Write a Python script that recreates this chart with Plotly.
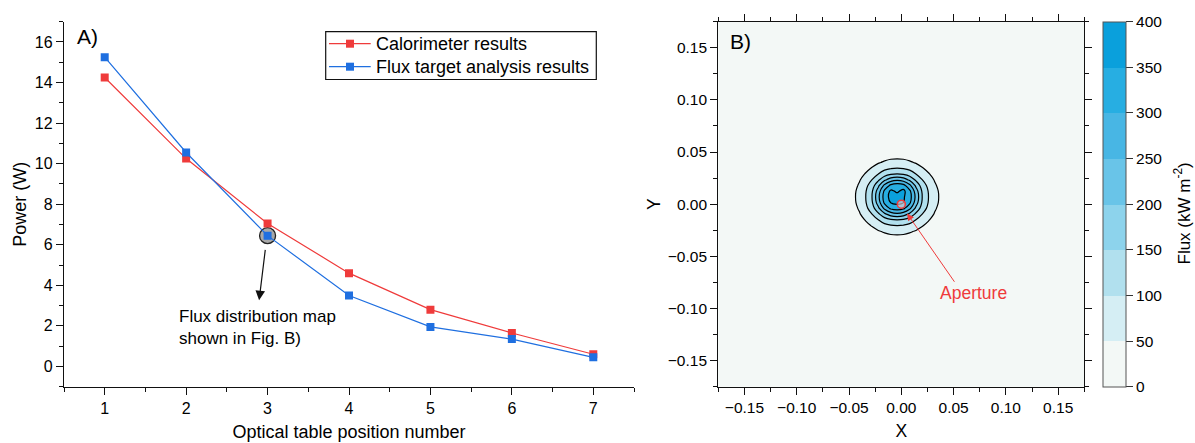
import plotly.graph_objects as go

# ---------------- data ----------------
positions = [1, 2, 3, 4, 5, 6, 7]
calorimeter = [14.25, 10.25, 7.05, 4.6, 2.8, 1.65, 0.6]
flux_target = [15.25, 10.55, 6.45, 3.5, 1.95, 1.35, 0.45]
series_names = ["Calorimeter results", "Flux target analysis results"]
highlight_pos = [3]
highlight_val = [6.45]

grid_x = [-0.052, -0.046, -0.040, -0.034, -0.028, -0.022, -0.016, -0.010, -0.004,
          0.002, 0.008, 0.014, 0.020, 0.026, 0.032, 0.038, 0.044]
grid_y = [-0.037, -0.0315, -0.026, -0.0205, -0.015, -0.0095, -0.004, 0.0015, 0.007,
          0.0125, 0.018, 0.0235, 0.029, 0.0345, 0.040, 0.0455, 0.051]
flux_map = [
    [3, 5, 6, 10, 14, 16, 19, 22, 23, 22, 19, 16, 14, 10, 6, 5, 3],
    [5, 7, 12, 16, 22, 28, 34, 39, 40, 39, 34, 28, 22, 16, 12, 7, 5],
    [6, 12, 17, 26, 36, 46, 56, 64, 67, 64, 56, 46, 36, 26, 17, 12, 6],
    [10, 16, 26, 39, 53, 72, 87, 97, 100, 97, 87, 72, 53, 39, 26, 16, 10],
    [14, 22, 36, 53, 78, 100, 126, 144, 150, 144, 126, 100, 78, 53, 36, 22, 14],
    [16, 28, 46, 72, 100, 140, 188, 225, 238, 225, 188, 140, 100, 72, 46, 28, 16],
    [19, 34, 56, 87, 126, 188, 262, 310, 322, 310, 262, 188, 126, 87, 56, 34, 19],
    [22, 39, 64, 97, 144, 225, 310, 352, 362, 350, 310, 225, 144, 97, 64, 39, 22],
    [23, 40, 67, 100, 150, 238, 322, 368, 372, 356, 322, 238, 150, 100, 67, 40, 23],
    [22, 39, 64, 97, 144, 225, 310, 360, 342, 364, 312, 225, 144, 97, 64, 39, 22],
    [19, 34, 56, 87, 126, 188, 262, 312, 330, 318, 262, 188, 126, 87, 56, 34, 19],
    [16, 28, 46, 72, 100, 140, 188, 225, 238, 225, 188, 140, 100, 72, 46, 28, 16],
    [14, 22, 36, 53, 78, 100, 126, 144, 150, 144, 126, 100, 78, 53, 36, 22, 14],
    [10, 16, 26, 39, 53, 72, 87, 97, 100, 97, 87, 72, 53, 39, 26, 16, 10],
    [6, 12, 17, 26, 36, 46, 56, 64, 67, 64, 56, 46, 36, 26, 17, 12, 6],
    [5, 7, 12, 16, 22, 28, 34, 39, 40, 39, 34, 28, 22, 16, 12, 7, 5],
    [3, 5, 6, 10, 14, 16, 19, 22, 23, 22, 19, 16, 14, 10, 6, 5, 3],
]
aperture_x = [0.0]
aperture_y = [0.0]
flux_ticks = [0, 50, 100, 150, 200, 250, 300, 350, 400]
xy_ticks = [-0.15, -0.10, -0.05, 0.0, 0.05, 0.10, 0.15]

# ---------------- styles ----------------
FONT = "Liberation Sans, Arial, sans-serif"
RED = "#EF3B3B"
BLUE = "#1F6FE0"
band_colors = ["#F3F8F6", "#D5EEF4", "#B1E0EE", "#8DD3EC",
               "#69C4E8", "#48B6E4", "#27AEE2", "#0AA0DC"]
colorscale = []
for k, c in enumerate(band_colors):
    colorscale.append([k / len(band_colors), c])
    colorscale.append([(k + 1) / len(band_colors), c])

W, H = 1195, 443
top_px, bot_px = 21.7, 386.7
ydom = [1 - bot_px / H, 1 - top_px / H]


def px(xp):
    return xp / W


def py(yp):
    return 1 - yp / H


fig = go.Figure()

# highlight circle (behind lines)
fig.add_trace(go.Scatter(
    x=highlight_pos, y=highlight_val, mode="markers", showlegend=False,
    marker=dict(symbol="circle", size=16, color="#A8A8A8",
                line=dict(color="#222222", width=1.3)),
    xaxis="x", yaxis="y", hoverinfo="skip"))

fig.add_trace(go.Scatter(
    x=positions, y=calorimeter, mode="lines+markers", name=series_names[0],
    line=dict(color=RED, width=1.2), showlegend=False,
    marker=dict(symbol="square", size=8, color=RED),
    xaxis="x", yaxis="y"))
fig.add_trace(go.Scatter(
    x=positions, y=flux_target, mode="lines+markers", name=series_names[1],
    line=dict(color=BLUE, width=1.2), showlegend=False,
    marker=dict(symbol="square", size=8, color=BLUE),
    xaxis="x", yaxis="y"))

# filled bands (no lines, so the colour bar stays clean)
fig.add_trace(go.Contour(
    x=grid_x, y=grid_y, z=flux_map, xaxis="x2", yaxis="y2",
    colorscale=colorscale, zmin=0, zmax=400,
    contours=dict(start=0, end=400, size=50, coloring="fill", showlines=False),
    line=dict(width=0, smoothing=1.1),
    showlegend=False, hoverinfo="skip",
    colorbar=dict(
        x=1102.7 / W, xanchor="left", xpad=0, ypad=0,
        y=ydom[1], yanchor="top", len=(bot_px - top_px) / H, lenmode="fraction",
        thickness=23, outlinewidth=1, outlinecolor="#555555",
        tickvals=flux_ticks, ticks="outside", ticklen=7, tickcolor="#333333",
        tickfont=dict(family=FONT, size=15.5, color="black"),
    ),
))
# contour lines on top
fig.add_trace(go.Contour(
    x=grid_x, y=grid_y, z=flux_map, xaxis="x2", yaxis="y2",
    showscale=False, zmin=0, zmax=400,
    contours=dict(start=0, end=400, size=50, coloring="none"),
    line=dict(color="black", width=1.2, smoothing=1.1),
    showlegend=False,
))

fig.add_trace(go.Scatter(
    x=aperture_x, y=aperture_y, mode="markers", showlegend=False,
    marker=dict(symbol="circle", size=8, color="rgba(255,210,210,0.6)",
                line=dict(color=RED, width=1.6)),
    xaxis="x2", yaxis="y2", hoverinfo="skip"))

axis_common = dict(showline=True, linecolor="#111111", linewidth=1.3,
                   ticks="outside", tickcolor="#111111", tickwidth=1.2,
                   showgrid=False, zeroline=False,
                   tickfont=dict(family=FONT, size=16, color="black"))
axis_right = {**axis_common, "tickfont": dict(family=FONT, size=15.5, color="black")}

# ---- custom legend box (drawn in paper coordinates) ----
leg_left, leg_right, leg_top, leg_bot = 325.7, 596.3, 31.7, 79.5
row_y = [43.7, 66.7]
row_colors = [RED, BLUE]
shapes = [
    dict(type="rect", xref="x2 domain", yref="y2 domain",
         x0=0, x1=1, y0=0, y1=1, fillcolor=band_colors[0],
         line=dict(width=0), layer="below"),
    dict(type="rect", xref="paper", yref="paper",
         x0=px(leg_left), x1=px(leg_right), y0=py(leg_bot), y1=py(leg_top),
         fillcolor="white", line=dict(color="#111111", width=1.2)),
]
annotations = []
for ry, col, name in zip(row_y, row_colors, series_names):
    shapes.append(dict(type="line", xref="paper", yref="paper",
                       x0=px(329), x1=px(370.7), y0=py(ry), y1=py(ry),
                       line=dict(color=col, width=1.2)))
    shapes.append(dict(type="rect", xref="paper", yref="paper",
                       x0=px(346), x1=px(354), y0=py(ry + 4), y1=py(ry - 4),
                       fillcolor=col, line=dict(width=0)))
    annotations.append(dict(text=name, x=px(374.3), y=py(ry), xref="paper", yref="paper",
                            xanchor="left", yanchor="middle", showarrow=False,
                            font=dict(family=FONT, size=18, color="black")))

annotations += [
    dict(text="A)", x=px(75), y=py(36), xref="paper", yref="paper",
         xanchor="left", yanchor="middle", showarrow=False,
         font=dict(family=FONT, size=21, color="black")),
    dict(text="B)", x=px(728), y=py(41.5), xref="paper", yref="paper",
         xanchor="left", yanchor="middle", showarrow=False,
         font=dict(family=FONT, size=21, color="black")),
    dict(text="", x=2.896, y=3.26, ax=2.974, ay=5.82, xref="x", yref="y",
         axref="x", ayref="y", showarrow=True, arrowhead=2, arrowsize=1.6,
         arrowwidth=1.2, arrowcolor="#111111"),
    dict(text="Flux distribution map<br>shown in Fig. B)", x=px(177), y=py(327),
         xref="paper", yref="paper", xanchor="left", yanchor="middle",
         align="left", showarrow=False,
         font=dict(family=FONT, size=17, color="black")),
    dict(text="", x=0.0055, y=-0.0089, ax=0.0518, ay=-0.0758, xref="x2", yref="y2",
         axref="x2", ayref="y2", showarrow=True, arrowhead=2, arrowsize=1.4,
         arrowwidth=1.0, arrowcolor=RED),
    dict(text="Aperture", x=0.0691, y=-0.0854, xref="x2", yref="y2",
         xanchor="center", yanchor="middle", showarrow=False,
         font=dict(family=FONT, size=17.5, color=RED)),
    dict(text="Flux (kW m<sup>-2</sup>)", x=px(1182.5), y=py(214),
         xref="paper", yref="paper", xanchor="center", yanchor="middle",
         textangle=-90, showarrow=False,
         font=dict(family=FONT, size=17, color="black")),
]

fig.update_layout(
    width=W, height=H, margin=dict(l=0, r=0, t=0, b=0),
    paper_bgcolor="white", plot_bgcolor="white",
    font=dict(family=FONT, color="black"),
    showlegend=False,
    xaxis=dict(domain=[px(64), px(634)], range=[0.5, 7.5], dtick=1, ticklen=7,
               minor=dict(dtick=0.5, ticklen=4, ticks="outside", tickcolor="#111111"),
               title=dict(text="Optical table position number", standoff=9,
                          font=dict(family=FONT, size=18)),
               anchor="y", **axis_common),
    yaxis=dict(domain=ydom, range=[-1, 17], dtick=2, ticklen=7,
               minor=dict(dtick=1, ticklen=4, ticks="outside", tickcolor="#111111"),
               title=dict(text="Power (W)", standoff=3,
                          font=dict(family=FONT, size=18)),
               anchor="x", **axis_common),
    xaxis2=dict(domain=[px(718.3), px(1084.3)], range=[-0.175, 0.175],
                tickvals=xy_ticks, tickformat=".2f", ticklen=7, mirror="allticks",
                minor=dict(dtick=0.025, tick0=0, ticklen=4, ticks="outside", tickcolor="#111111"),
                title=dict(text="X", standoff=9, font=dict(family=FONT, size=17.5)),
                anchor="y2", **axis_right),
    yaxis2=dict(domain=ydom, range=[-0.175, 0.175],
                tickvals=xy_ticks, tickformat=".2f", ticklen=7, mirror="allticks",
                minor=dict(dtick=0.025, tick0=0, ticklen=4, ticks="outside", tickcolor="#111111"),
                title=dict(text="Y", standoff=2, font=dict(family=FONT, size=17.5)),
                anchor="x2", **axis_right),
    shapes=shapes,
    annotations=annotations,
)

fig.write_html("out.html")
